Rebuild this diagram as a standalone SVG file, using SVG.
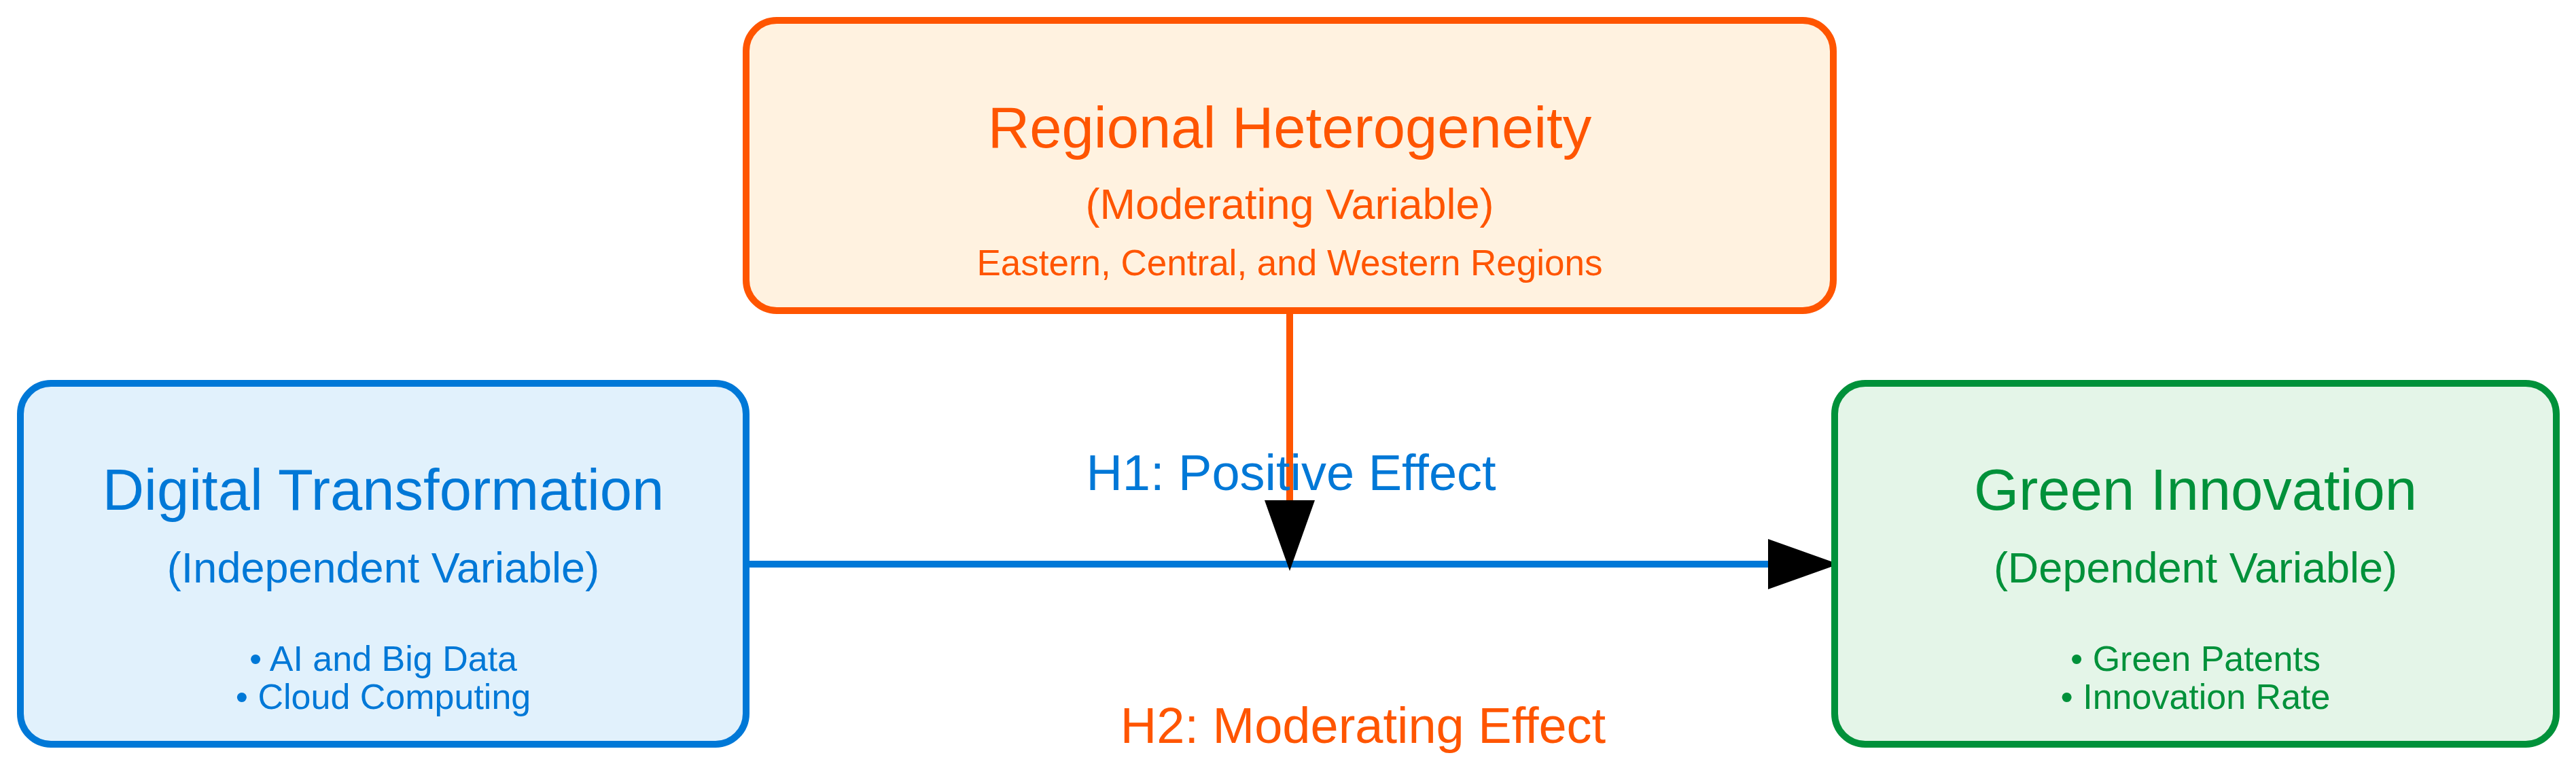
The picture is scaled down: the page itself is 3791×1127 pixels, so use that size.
<svg xmlns="http://www.w3.org/2000/svg" width="3791" height="1127" viewBox="0 0 3791 1127">
  <style>
    text { font-family: "Liberation Sans", Arial, sans-serif; text-anchor: middle; }
    .box { stroke-width: 10; }
    .title { font-size: 85px; }
    .sub { font-size: 63px; }
    .detail { font-size: 53px; }
    .bullet { font-size: 52px; }
    .label { font-size: 74px; }
    .orange { fill: #FF5500; }
    .blue { fill: #0078D7; }
    .green { fill: #00913A; }
  </style>
  <defs>
    <marker id="arrow" markerUnits="userSpaceOnUse" markerWidth="106" markerHeight="76" refX="10" refY="37" orient="auto">
      <path d="M0,0 L104,37 L0,74 Z" fill="#000"/>
    </marker>
  </defs>
  <rect width="3791" height="1127" fill="#FFFFFF"/>

  <g id="connectors">
    <line x1="1098" y1="830" x2="2612" y2="830" stroke="#0078D7" stroke-width="10" marker-end="url(#arrow)"/>
    <line x1="1898" y1="462" x2="1898" y2="746" stroke="#FF5500" stroke-width="10" marker-end="url(#arrow)"/>
    <text class="label blue" x="1900" y="721">H1: Positive Effect</text>
    <text class="label orange" x="2006" y="1093">H2: Moderating Effect</text>
  </g>

  <g id="node-moderator">
    <rect class="box" x="1098" y="30" width="1600" height="427" rx="45" ry="45" fill="#FFF2E0" stroke="#FF5500"/>
    <text class="title orange" x="1898" y="217">Regional Heterogeneity</text>
    <text class="sub orange" x="1898" y="322">(Moderating Variable)</text>
    <text class="detail orange" x="1898" y="405">Eastern, Central, and Western Regions</text>
  </g>

  <g id="node-independent">
    <rect class="box" x="30" y="564" width="1068" height="531" rx="45" ry="45" fill="#E1F1FC" stroke="#0078D7"/>
    <text class="title blue" x="564" y="750">Digital Transformation</text>
    <text class="sub blue" x="564" y="857">(Independent Variable)</text>
    <text class="bullet blue" x="564" y="987">• AI and Big Data</text>
    <text class="bullet blue" x="564" y="1043">• Cloud Computing</text>
  </g>

  <g id="node-dependent">
    <rect class="box" x="2700" y="564" width="1062" height="531" rx="45" ry="45" fill="#E4F5E8" stroke="#00913A"/>
    <text class="title green" x="3231" y="750">Green Innovation</text>
    <text class="sub green" x="3231" y="857">(Dependent Variable)</text>
    <text class="bullet green" x="3231" y="987">• Green Patents</text>
    <text class="bullet green" x="3231" y="1043">• Innovation Rate</text>
  </g>
</svg>
